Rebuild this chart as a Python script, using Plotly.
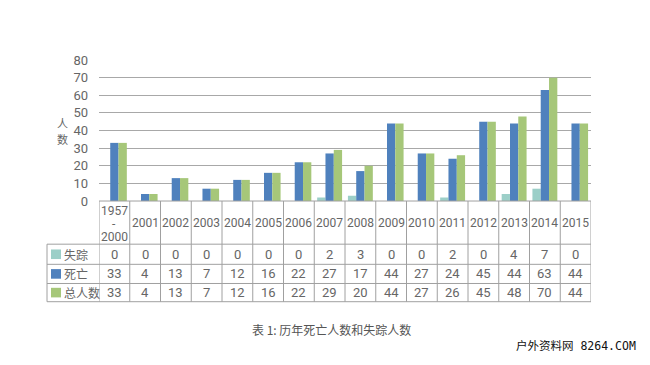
import plotly.graph_objects as go

categories = ["1957-2000", "2001", "2002", "2003", "2004", "2005", "2006", "2007",
              "2008", "2009", "2010", "2011", "2012", "2013", "2014", "2015"]
header_lines = [["1957", "-", "2000"]] + [[c] for c in categories[1:]]
missing = [0, 0, 0, 0, 0, 0, 0, 2, 3, 0, 0, 2, 0, 4, 7, 0]
deaths = [33, 4, 13, 7, 12, 16, 22, 27, 17, 44, 27, 24, 45, 44, 63, 44]
total = [33, 4, 13, 7, 12, 16, 22, 29, 20, 44, 27, 26, 45, 48, 70, 44]
series_names = ["失踪", "死亡", "总人数"]
y_ticks = [0, 10, 20, 30, 40, 50, 60, 70, 80]

colors = ["#9ccfc8", "#4f81bd", "#a6c779"]
W, H = 650, 365
OFF = 8  # page body margin
def xp(px): return (px - OFF) / W
def yp(py): return 1 - (py - OFF) / H

NUM_FONT = "Roboto, 'Noto Sans CJK SC', sans-serif"
CJK_FONT = "'Noto Sans CJK SC', sans-serif"
TXT = "#666666"
LINE = "#a0a0a0"

fig = go.Figure()
xs = list(range(len(categories)))
for name, vals, c in zip(series_names, [missing, deaths, total], colors):
    fig.add_trace(go.Bar(x=xs, y=vals, name=name, marker_color=c,
                         marker_line_width=0, showlegend=False, hoverinfo="skip"))

x_left, x_right = 99, 591
y_top, y_zero = 55, 202
fig.update_layout(
    width=W, height=H, margin=dict(l=0, r=0, t=0, b=0),
    paper_bgcolor="white", plot_bgcolor="white",
    barmode="group", bargap=0.19, bargroupgap=0,
    xaxis=dict(domain=[xp(x_left), xp(x_right)], showticklabels=False, showgrid=False,
               zeroline=False, showline=False, ticks="", range=[-0.5, len(categories) - 0.5]),
    yaxis=dict(domain=[yp(y_zero), yp(y_top)], range=[0, 80], tickvals=y_ticks,
               showgrid=True, gridcolor="#a8a8a8", gridwidth=1, zeroline=False,
               showline=False, ticks="", ticklabelstandoff=10,
               tickfont=dict(family=NUM_FONT, size=13, color=TXT)),
)

def text(x, y, s, font, xref="paper", xanchor="center", size=13, color=TXT):
    return dict(x=x, xref=xref, y=y, yref="paper", text=s, showarrow=False,
                xanchor=xanchor, yanchor="middle", align="center",
                font=dict(family=font, size=size, color=color))

shapes = []
annotations = []
row_y = [202, 247, 268, 288, 307]
label_left = 47
n = len(categories)
for i in range(n + 1):
    shapes.append(dict(type="line", xref="x", yref="paper", x0=i - 0.5, x1=i - 0.5,
                       y0=yp(row_y[0]), y1=yp(row_y[-1]), line=dict(color=LINE, width=1)))
shapes.append(dict(type="line", xref="paper", yref="paper", x0=xp(x_left), x1=xp(x_right),
                   y0=yp(row_y[0]), y1=yp(row_y[0]), line=dict(color=LINE, width=1)))
for ry in row_y[1:]:
    shapes.append(dict(type="line", xref="paper", yref="paper", x0=xp(label_left), x1=xp(x_right),
                       y0=yp(ry), y1=yp(ry), line=dict(color=LINE, width=1)))
shapes.append(dict(type="line", xref="paper", yref="paper", x0=xp(label_left), x1=xp(label_left),
                   y0=yp(row_y[1]), y1=yp(row_y[-1]), line=dict(color=LINE, width=1)))

# header row
for i, lines in enumerate(header_lines):
    if len(lines) == 1:
        annotations.append(text(i, yp(225), lines[0], NUM_FONT, xref="x", size=12))
    else:
        for ly, s in zip([212, 226, 239], lines):
            annotations.append(text(i, yp(ly), s, NUM_FONT, xref="x", size=12))
# data rows
for r, (name, vals, c) in enumerate(zip(series_names, [missing, deaths, total], colors)):
    yc = (row_y[r + 1] + row_y[r + 2]) / 2
    for i, v in enumerate(vals):
        annotations.append(text(i, yp(yc), str(v), NUM_FONT, xref="x", size=13))
    shapes.append(dict(type="rect", xref="paper", yref="paper", x0=xp(51), x1=xp(61),
                       y0=yp(yc + 5), y1=yp(yc - 5), fillcolor=c, line=dict(width=0)))
    annotations.append(text(xp(62), yp(yc), name, CJK_FONT, xanchor="left", size=12))

# vertical y-axis title (stacked characters)
annotations.append(text(xp(62), yp(121), "人", CJK_FONT, size=11))
annotations.append(text(xp(62), yp(137), "数", CJK_FONT, size=11))
# caption
annotations.append(text(xp(331), yp(336), "表 1: 历年死亡人数和失踪人数", CJK_FONT,
                        size=12, color="#555555"))
# watermark
annotations.append(text(xp(638), yp(353), "户外资料网 8264.COM",
                        "'DejaVu Sans Mono', 'Noto Sans CJK SC', monospace",
                        xanchor="right", size=11.5, color="#111111"))

fig.update_layout(shapes=shapes, annotations=annotations)
fig.write_html("out.html")
